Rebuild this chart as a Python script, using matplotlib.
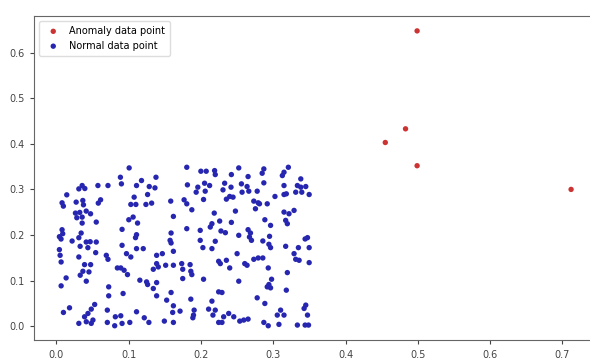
import matplotlib
matplotlib.use("Agg")
import matplotlib.pyplot as plt

# Anomaly points
anomaly_x = [0.499, 0.455, 0.483, 0.499, 0.712]
anomaly_y = [0.648, 0.403, 0.433, 0.352, 0.300]

# Normal points
normal_pts = [
    # upper-left block
    (0.0357, 0.3085), (0.0311, 0.3012), (0.0394, 0.3020), (0.0575, 0.3085),
    (0.0144, 0.2881), (0.0079, 0.2706), (0.0097, 0.2633), (0.0274, 0.2721), (0.0366, 0.2757),
    (0.0375, 0.2662), (0.0612, 0.2772), (0.0580, 0.2699), (0.0264, 0.2480), (0.0324, 0.2495),
    (0.0413, 0.2524), (0.0473, 0.2465), (0.0283, 0.2378), (0.0357, 0.2392), (0.0357, 0.2261),
    (0.0552, 0.2283), (0.0079, 0.2115), (0.0088, 0.2028), (0.0042, 0.1962), (0.0065, 0.1911),
    (0.0343, 0.2042), (0.0311, 0.1940), (0.0218, 0.1867), (0.0413, 0.1845), (0.0468, 0.1852),
    (0.0552, 0.1845), (0.0329, 0.1751), (0.0436, 0.1721), (0.0042, 0.1678),
    # upper, second block
    (0.1007, 0.3472), (0.0886, 0.3267), (0.0900, 0.3122), (0.0714, 0.3085), (0.1178, 0.3195),
    (0.1378, 0.3267), (0.1109, 0.3085), (0.1285, 0.3063), (0.1364, 0.3034), (0.1076, 0.2830),
    (0.1262, 0.2888), (0.1030, 0.2670), (0.1100, 0.2670), (0.1239, 0.2670), (0.1318, 0.2699),
    (0.1582, 0.2743), (0.1619, 0.2407), (0.1062, 0.2393), (0.1002, 0.2334), (0.1123, 0.2261),
    (0.0909, 0.2123), (0.1109, 0.2006), (0.1095, 0.1941), (0.1587, 0.2043), (0.1573, 0.1882),
    (0.1587, 0.1824), (0.0909, 0.1773), (0.1109, 0.1700), (0.1202, 0.1700),
    # upper, third block
    (0.1804, 0.3486), (0.1999, 0.3399), (0.2073, 0.3399), (0.2189, 0.3413), (0.2198, 0.3326),
    (0.2421, 0.3326), (0.2523, 0.3472), (0.1813, 0.3100), (0.1957, 0.3049), (0.1934, 0.2939),
    (0.2050, 0.3136), (0.2120, 0.3085), (0.2059, 0.2961), (0.2328, 0.3136), (0.2305, 0.2990),
    (0.2416, 0.3049), (0.2398, 0.2845), (0.2444, 0.2830), (0.2352, 0.2786), (0.2036, 0.2779),
    (0.1767, 0.2772), (0.1804, 0.2684), (0.1874, 0.2553), (0.2477, 0.2524), (0.2184, 0.2480),
    (0.2259, 0.2305), (0.2152, 0.2247), (0.2129, 0.2174), (0.2421, 0.2276), (0.1804, 0.2138),
    (0.1990, 0.2101), (0.2277, 0.2087), (0.2338, 0.2050), (0.2523, 0.1992), (0.1990, 0.1882),
    (0.2198, 0.1861), (0.2027, 0.1722), (0.2152, 0.1700),
    # upper, fourth block
    (0.2652, 0.3282), (0.2870, 0.3450), (0.2847, 0.3355), (0.3209, 0.3486), (0.3149, 0.3377),
    (0.3126, 0.3304), (0.2560, 0.3122), (0.2638, 0.3063), (0.2569, 0.2939), (0.2662, 0.2961),
    (0.2870, 0.3144), (0.3381, 0.3231), (0.2778, 0.2961), (0.3149, 0.3085), (0.3334, 0.3085),
    (0.3381, 0.3049), (0.3450, 0.3063), (0.3311, 0.2939), (0.3395, 0.2939), (0.3497, 0.2888),
    (0.3024, 0.2845), (0.3149, 0.2888), (0.3181, 0.2903), (0.2731, 0.2743), (0.2792, 0.2706),
    (0.2810, 0.2684), (0.2917, 0.2684), (0.2754, 0.2575), (0.3149, 0.2502), (0.3218, 0.2466),
    (0.3288, 0.2539), (0.3172, 0.2320), (0.3195, 0.2247), (0.2884, 0.2334), (0.2963, 0.2210),
    (0.2652, 0.2116), (0.2685, 0.2043), (0.2671, 0.1955), (0.2699, 0.1882), (0.2949, 0.1970),
    (0.2856, 0.1868), (0.2940, 0.1795), (0.2963, 0.1722), (0.3474, 0.1941), (0.3441, 0.1912),
    (0.3172, 0.1751), (0.3348, 0.1722), (0.3497, 0.1722),
    # lower-left block
    (0.0052, 0.1553), (0.0066, 0.1407), (0.0544, 0.1612), (0.0311, 0.1517), (0.0390, 0.1349),
    (0.0474, 0.1349), (0.0367, 0.1203), (0.0451, 0.1189), (0.0135, 0.1057), (0.0330, 0.1116),
    (0.0414, 0.0985), (0.0066, 0.0883), (0.0182, 0.0401), (0.0098, 0.0299), (0.0530, 0.0474),
    (0.0483, 0.0372), (0.0437, 0.0277), (0.0390, 0.0204), (0.0414, 0.0095), (0.0483, 0.0059),
    (0.0506, 0.0132), (0.0311, 0.0059),
    # lower, second block
    (0.0970, 0.1590), (0.1030, 0.1517), (0.0691, 0.1553), (0.0714, 0.1466), (0.1466, 0.1590),
    (0.1387, 0.1553), (0.1619, 0.1641), (0.1387, 0.1371), (0.1410, 0.1298), (0.1341, 0.1247),
    (0.1512, 0.1335), (0.0844, 0.1276), (0.0891, 0.1276), (0.0937, 0.1225), (0.0984, 0.1130),
    (0.1619, 0.1335), (0.1155, 0.1007), (0.1248, 0.0970), (0.1262, 0.0912), (0.1387, 0.0955),
    (0.0724, 0.0861), (0.1341, 0.0824), (0.1387, 0.0664), (0.0923, 0.0715), (0.0724, 0.0664),
    (0.1587, 0.0737), (0.1526, 0.0569), (0.1619, 0.0445), (0.0705, 0.0350), (0.1109, 0.0314),
    (0.0816, 0.0204), (0.0891, 0.0226), (0.1216, 0.0182), (0.1280, 0.0080), (0.1494, 0.0109),
    (0.0705, 0.0080), (0.0807, 0.0007), (0.0909, 0.0058), (0.1016, 0.0080), (0.1619, 0.0080),
    # lower, third block
    (0.2500, 0.1590), (0.1734, 0.1371), (0.1748, 0.1247), (0.1850, 0.1349), (0.1860, 0.1203),
    (0.1874, 0.1130), (0.2245, 0.1422), (0.2268, 0.1371), (0.2352, 0.1444), (0.2398, 0.1276),
    (0.1748, 0.1043), (0.2036, 0.1028), (0.2523, 0.0985), (0.2245, 0.0751), (0.2291, 0.0737),
    (0.1860, 0.0591), (0.2152, 0.0547), (0.1906, 0.0350), (0.1897, 0.0241), (0.1888, 0.0182),
    (0.1711, 0.0328), (0.1609, 0.0299), (0.2106, 0.0372), (0.2198, 0.0350), (0.2166, 0.0241),
    (0.2314, 0.0204), (0.2384, 0.0277), (0.2454, 0.0204), (0.2245, 0.0080), (0.2291, 0.0080),
    (0.2537, 0.0109),
    # lower, fourth block
    (0.3288, 0.1590), (0.3311, 0.1466), (0.3358, 0.1444), (0.2731, 0.1466), (0.2792, 0.1495),
    (0.2856, 0.1495), (0.2606, 0.1371), (0.2638, 0.1335), (0.2931, 0.1276), (0.3497, 0.1393),
    (0.3195, 0.1174), (0.2977, 0.1028), (0.2940, 0.0912), (0.2917, 0.0861), (0.2963, 0.0839),
    (0.3181, 0.0788), (0.2778, 0.0620), (0.2884, 0.0496), (0.3450, 0.0460), (0.3427, 0.0387),
    (0.2592, 0.0132), (0.2652, 0.0153), (0.3102, 0.0350), (0.3056, 0.0241), (0.3149, 0.0241),
    (0.3474, 0.0241), (0.2870, 0.0080), (0.2931, 0.0007), (0.3079, 0.0037), (0.3334, 0.0022),
    (0.3441, 0.0022), (0.3488, 0.0022),
]
normal_x = [p[0] for p in normal_pts]
normal_y = [p[1] for p in normal_pts]

x_ticks = [0.0, 0.1, 0.2, 0.3, 0.4, 0.5, 0.6, 0.7]
y_ticks = [0.0, 0.1, 0.2, 0.3, 0.4, 0.5, 0.6]

fig = plt.figure(figsize=(5.9, 3.58), dpi=100)
ax = fig.add_axes([0.0573, 0.0489, 0.954, 0.9060])

ax.scatter(anomaly_x, anomaly_y, s=15, color="#cc3333", label="Anomaly data point",
           edgecolors="none")
ax.scatter(normal_x, normal_y, s=15, color="#2626b0", label="Normal data point",
           edgecolors="none")

ax.set_xticks(x_ticks)
ax.set_yticks(y_ticks)
ax.set_xticklabels([f"{v:.1f}" for v in x_ticks])
ax.set_yticklabels([f"{v:.1f}" for v in y_ticks])
ax.tick_params(labelsize=7, colors="#444444", length=3)
for sp in ax.spines.values():
    sp.set_color("#666666")
ax.spines["right"].set_visible(False)

ax.legend(loc="upper left", fontsize=7, framealpha=1, edgecolor="#dddddd",
          handletextpad=0.6, borderpad=0.5)

fig.savefig("out.png", dpi=100)
